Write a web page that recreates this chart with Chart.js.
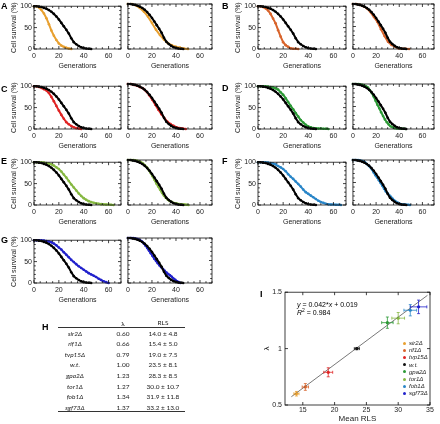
<!DOCTYPE html>
<html>
<head>
<meta charset="utf-8">
<script src="https://cdn.jsdelivr.net/npm/chart.js@4.4.0/dist/chart.umd.min.js"></script>
<style>
  body { margin: 0; background: #fff; width: 440px; height: 424px; position: relative; overflow: hidden; font-family: "Liberation Sans", Arial, sans-serif; }
  .box { position: absolute; }
  .lab { position: absolute; font-weight: bold; font-size: 9px; line-height: 9px; }
  .cell { position: absolute; font-family: Lato, sans-serif; font-size: 6.5px; line-height: 7px; transform: translate(-50%, -50%); white-space: nowrap; color: #222; }
  .rule { position: absolute; left: 58px; width: 127px; height: 0; border-top: 0.8px solid #333; }
  .leg { position: absolute; font-size: 6px; line-height: 6px; font-style: italic; white-space: nowrap; color: #222; }
  .dot { position: absolute; width: 3px; height: 3px; border-radius: 50%; }
  .eq { position: absolute; font-size: 7px; line-height: 8px; white-space: nowrap; }
</style>
</head>
<body>
<script>
// survival (%) read every 2 generations
const generations = [0, 2, 4, 6, 8, 10, 12, 14, 16, 18, 20, 22, 24, 26, 28, 30, 32, 34, 36, 38, 40, 42, 44, 46, 48, 50, 52, 54, 56, 58, 60, 62, 64, 66];
const survWT    = [100, 100, 99, 98, 96, 94, 91, 87, 82, 76, 69, 61, 53, 45, 36, 25, 16, 11, 7, 4, 2, 1, 0.5, 0];
const survSir2  = [100, 100, 97, 91, 83, 72, 58, 43, 31, 21, 13, 8, 5, 3, 1, 0];
const survRif1  = [100, 100, 98, 95, 90, 82, 71, 60, 44, 29, 16, 9, 5, 1.5, 0.5, 0.5, 0];
const survTvp15 = [100, 100, 98, 96, 93, 90, 84, 75, 65, 54, 43, 33, 24, 16, 11, 7, 4, 2, 1, 0];
const survGpa2  = [100, 100, 100, 100, 99, 98, 97, 95, 92, 86, 80, 72, 63, 54, 46, 37, 29, 21, 15, 10, 6, 4, 2, 1.5, 1, 1, 0.5, 0.5, 0];
const survTor1  = [100, 100, 100, 100, 99, 98, 97, 95, 92, 88, 84, 78, 71, 64, 56, 48, 41, 34, 27, 21, 16, 12, 9, 7, 5, 4, 3, 2, 1.5, 1, 1, 0.5, 0];
const survFob1  = [100, 100, 100, 100, 99, 98, 97, 95, 91, 88, 84, 79, 72, 66, 61, 55, 49, 43, 36, 30, 26, 22, 18, 14, 10, 7, 5, 3, 1.5, 1, 1, 0.5, 0.5, 0];
const survSgf73 = [100, 100, 100, 100, 99, 98, 97, 95, 92, 88, 83, 78, 72, 66, 60, 54, 49, 44, 39, 35, 31, 27, 23, 20, 17, 14, 10, 7, 4, 2, 0];

// table H / panel I
const strains = ['sir2Δ', 'rif1Δ', 'tvp15Δ', 'w.t.', 'gpa2Δ', 'tor1Δ', 'fob1Δ', 'sgf73Δ'];
const lambdas = [0.60, 0.66, 0.79, 1.00, 1.23, 1.27, 1.34, 1.37];
const rlsMean = [14.0, 15.4, 19.0, 23.5, 28.3, 30.0, 31.9, 33.2];
const rlsSd   = [4.8, 5.0, 7.5, 8.1, 8.5, 10.7, 11.8, 13.0];
const rlsErr  = [0.4, 0.5, 0.7, 0.4, 0.9, 1.0, 1.0, 1.3];
const lamErr  = [0.02, 0.03, 0.04, 0.01, 0.05, 0.05, 0.05, 0.06];
const colors  = ['#e8a030', '#d8642c', '#e02424', '#111111', '#2c9a36', '#86b842', '#2a86c8', '#2222cc'];
const fitSlope = 0.042, fitIntercept = 0.019, fitR2 = 0.984;

Chart.defaults.font.family = '"Liberation Sans", Arial, sans-serif';
Chart.defaults.color = '#222';

// frame with inward ticks on all four sides
const boxTicks = {
  id: 'boxTicks',
  afterDraw(chart, args, o) {
    const { ctx, chartArea: a } = chart;
    const x = chart.scales.x, y = chart.scales.y;
    ctx.save();
    ctx.strokeStyle = '#111';
    ctx.lineWidth = 0.8;
    ctx.strokeRect(a.left, a.top, a.right - a.left, a.bottom - a.top);
    ctx.beginPath();
    const isMajor = (v, m) => Math.abs(v / m - Math.round(v / m)) < 1e-6;
    for (let v = Math.ceil(x.min / o.xMinor - 1e-9) * o.xMinor; v <= x.max + 1e-9; v += o.xMinor) {
      const len = isMajor(v, o.xMajor) ? 3 : 1.8;
      const px = x.getPixelForValue(v);
      ctx.moveTo(px, a.bottom); ctx.lineTo(px, a.bottom - len);
      ctx.moveTo(px, a.top); ctx.lineTo(px, a.top + len);
    }
    for (let v = Math.ceil(y.min / o.yMinor - 1e-9) * o.yMinor; v <= y.max + 1e-9; v += o.yMinor) {
      const len = isMajor(v, o.yMajor) ? 3 : 1.8;
      const py = y.getPixelForValue(v);
      ctx.moveTo(a.left, py); ctx.lineTo(a.left + len, py);
      ctx.moveTo(a.right, py); ctx.lineTo(a.right - len, py);
    }
    ctx.stroke();
    ctx.restore();
  }
};

function addBox(left, top, w, h) {
  const div = document.createElement('div');
  div.className = 'box';
  div.style.left = left + 'px';
  div.style.top = top + 'px';
  div.style.width = w + 'px';
  div.style.height = h + 'px';
  const c = document.createElement('canvas');
  div.appendChild(c);
  document.body.appendChild(div);
  return c;
}

function toPoints(surv, lambda) {
  return surv.map((s, i) => ({ x: generations[i] / lambda, y: s }));
}

const noGrid = { display: false, drawTicks: false };
const plain = v => String(v);

function survChart(left, top, width, withY, mutant, color, lambda) {
  const yW = withY ? 26 : 0;
  const canvas = addBox(left - yW, top - 3, width + yW + 4, 46 + 3 + 22);
  const line = (data, col) => ({
    data: data, showLine: true, borderColor: col, backgroundColor: col,
    borderWidth: 2, pointRadius: 1.3, pointBorderWidth: 0, clip: 3
  });
  new Chart(canvas, {
    type: 'scatter',
    data: { datasets: [line(toPoints(survWT, 1), '#000'), line(toPoints(mutant, lambda), color)] },
    options: {
      responsive: true, maintainAspectRatio: false, animation: false,
      layout: { padding: { top: 3, right: 4, left: 0, bottom: 0 } },
      plugins: { legend: { display: false }, tooltip: { enabled: false },
        boxTicks: { xMinor: 5, xMajor: 20, yMinor: 10, yMajor: 50 } },
      scales: {
        x: {
          min: 0, max: 70,
          grid: noGrid, border: { display: false },
          afterBuildTicks: s => { s.ticks = [0, 20, 40, 60].map(v => ({ value: v })); },
          ticks: { font: { size: 7 }, padding: 3, maxRotation: 0, callback: plain },
          title: { display: true, text: 'Generations', font: { size: 7 }, padding: { top: 0, bottom: 1 } },
          afterFit: s => { s.height = 22; }
        },
        y: {
          min: 0, max: 100,
          grid: noGrid, border: { display: false },
          afterBuildTicks: s => { s.ticks = [0, 50, 100].map(v => ({ value: v })); },
          ticks: { display: withY, font: { size: 7 }, padding: 2, callback: plain },
          title: { display: withY, text: 'Cell survival (%)', font: { size: 7 }, padding: { top: 2, bottom: 0 } },
          afterFit: s => { s.width = yW; }
        }
      }
    },
    plugins: [boxTicks]
  });
}

// panel rows / columns
const rowTops = [3, 83, 159, 237];
survChart(34, rowTops[0], 87, true, survSir2, colors[0], 1);
survChart(123, rowTops[0], 89, false, survSir2, colors[0], lambdas[0]);
survChart(258, rowTops[0], 88, true, survRif1, colors[1], 1);
survChart(348, rowTops[0], 86, false, survRif1, colors[1], lambdas[1]);
survChart(34, rowTops[1], 87, true, survTvp15, colors[2], 1);
survChart(123, rowTops[1], 89, false, survTvp15, colors[2], lambdas[2]);
survChart(258, rowTops[1], 88, true, survGpa2, colors[4], 1);
survChart(348, rowTops[1], 86, false, survGpa2, colors[4], lambdas[4]);
survChart(34, rowTops[2], 87, true, survTor1, colors[5], 1);
survChart(123, rowTops[2], 89, false, survTor1, colors[5], lambdas[5]);
survChart(258, rowTops[2], 88, true, survFob1, colors[6], 1);
survChart(348, rowTops[2], 86, false, survFob1, colors[6], lambdas[6]);
survChart(34, rowTops[3], 87, true, survSgf73, colors[7], 1);
survChart(123, rowTops[3], 89, false, survSgf73, colors[7], lambdas[7]);

// panel letters
function label(txt, x, y) {
  const d = document.createElement('div');
  d.className = 'lab';
  d.style.left = x + 'px';
  d.style.top = y + 'px';
  d.textContent = txt;
  document.body.appendChild(d);
}
label('A', 1, 2); label('B', 222, 2);
label('C', 1, 85); label('D', 222, 84);
label('E', 1, 157); label('F', 222, 157);
label('G', 1, 236); label('H', 42, 323); label('I', 260, 290);

// table H
function cell(txt, x, y, italic) {
  const d = document.createElement('div');
  d.className = 'cell';
  d.style.left = x + 'px';
  d.style.top = y + 'px';
  if (italic) d.style.fontStyle = 'italic';
  d.textContent = txt;
  document.body.appendChild(d);
}
cell('λ', 123, 323); cell('RLS', 163, 322);
const rowY = [333, 343, 353.5, 364, 375, 385.5, 396, 406.5];
strains.forEach((s, i) => {
  cell(s, 75, rowY[i], true);
  cell(lambdas[i].toFixed(2), 123, rowY[i]);
  cell(rlsMean[i].toFixed(1) + ' ± ' + rlsSd[i].toFixed(1), 163, rowY[i]);
});
[327, 411].forEach(y => {
  const r = document.createElement('div');
  r.className = 'rule';
  r.style.top = y + 'px';
  document.body.appendChild(r);
});

// panel I: lambda vs mean RLS
const errorBars = {
  id: 'errorBars',
  afterDatasetsDraw(chart) {
    const { ctx } = chart;
    const x = chart.scales.x, y = chart.scales.y;
    ctx.save();
    ctx.lineWidth = 0.8;
    rlsMean.forEach((m, i) => {
      const px = x.getPixelForValue(m), py = y.getPixelForValue(lambdas[i]);
      const x0 = x.getPixelForValue(m - rlsErr[i]), x1 = x.getPixelForValue(m + rlsErr[i]);
      const y0 = y.getPixelForValue(lambdas[i] - lamErr[i]), y1 = y.getPixelForValue(lambdas[i] + lamErr[i]);
      ctx.strokeStyle = colors[i];
      ctx.beginPath();
      ctx.moveTo(x0, py); ctx.lineTo(x1, py);
      ctx.moveTo(x0, py - 1.5); ctx.lineTo(x0, py + 1.5);
      ctx.moveTo(x1, py - 1.5); ctx.lineTo(x1, py + 1.5);
      ctx.moveTo(px, y0); ctx.lineTo(px, y1);
      ctx.moveTo(px - 1.5, y0); ctx.lineTo(px + 1.5, y0);
      ctx.moveTo(px - 1.5, y1); ctx.lineTo(px + 1.5, y1);
      ctx.stroke();
    });
    ctx.restore();
  }
};

const fitX = [13.2, 34.6];
const canvasI = addBox(250, 285, 185, 139);
new Chart(canvasI, {
  type: 'scatter',
  data: {
    datasets: [
      { data: fitX.map(v => ({ x: v, y: fitSlope * v + fitIntercept })), showLine: true,
        borderColor: '#555', borderWidth: 0.8, pointRadius: 0 },
      { data: rlsMean.map((m, i) => ({ x: m, y: lambdas[i] })), pointRadius: 1.6,
        pointBorderWidth: 0, backgroundColor: colors }
    ]
  },
  options: {
    responsive: true, maintainAspectRatio: false, animation: false,
    layout: { padding: { top: 5, right: 5, left: 0, bottom: 0 } },
    plugins: { legend: { display: false }, tooltip: { enabled: false },
      boxTicks: { xMinor: 5, xMajor: 5, yMinor: 0.5, yMajor: 0.5 } },
    scales: {
      x: {
        min: 12.2, max: 35,
        grid: noGrid, border: { display: false },
        afterBuildTicks: s => { s.ticks = [15, 20, 25, 30, 35].map(v => ({ value: v })); },
        ticks: { font: { size: 7 }, padding: 1, maxRotation: 0, callback: plain },
        title: { display: true, text: 'Mean RLS', font: { size: 8 }, padding: { top: 0, bottom: 0 } },
        afterFit: s => { s.height = 19; }
      },
      y: {
        min: 0.5, max: 1.5,
        grid: noGrid, border: { display: false },
        afterBuildTicks: s => { s.ticks = [0.5, 1, 1.5].map(v => ({ value: v })); },
        ticks: { font: { size: 7 }, padding: 3, callback: plain },
        title: { display: true, text: 'λ', font: { size: 8 }, padding: { top: 12, bottom: 0 } },
        afterFit: s => { s.width = 35; }
      }
    }
  },
  plugins: [boxTicks, errorBars]
});

// equation
const eq = document.createElement('div');
eq.className = 'eq';
eq.style.left = '297px';
eq.style.top = '301px';
eq.innerHTML = '<i>y</i> = ' + fitSlope + '*<i>x</i> + ' + fitIntercept + '<br><i>R</i><sup style="font-size:5px;line-height:0">2</sup> = ' + fitR2;
document.body.appendChild(eq);

// legend of panel I
const legY = [343, 350.2, 357.4, 364.6, 371.8, 379, 386.2, 393.4];
strains.forEach((s, i) => {
  const d = document.createElement('div');
  d.className = 'dot';
  d.style.left = '402.5px';
  d.style.top = (legY[i] - 1.5) + 'px';
  d.style.background = colors[i];
  document.body.appendChild(d);
  const t = document.createElement('div');
  t.className = 'leg';
  t.style.left = '409px';
  t.style.top = (legY[i] - 3) + 'px';
  t.textContent = s;
  document.body.appendChild(t);
});
</script>
</body>
</html>
